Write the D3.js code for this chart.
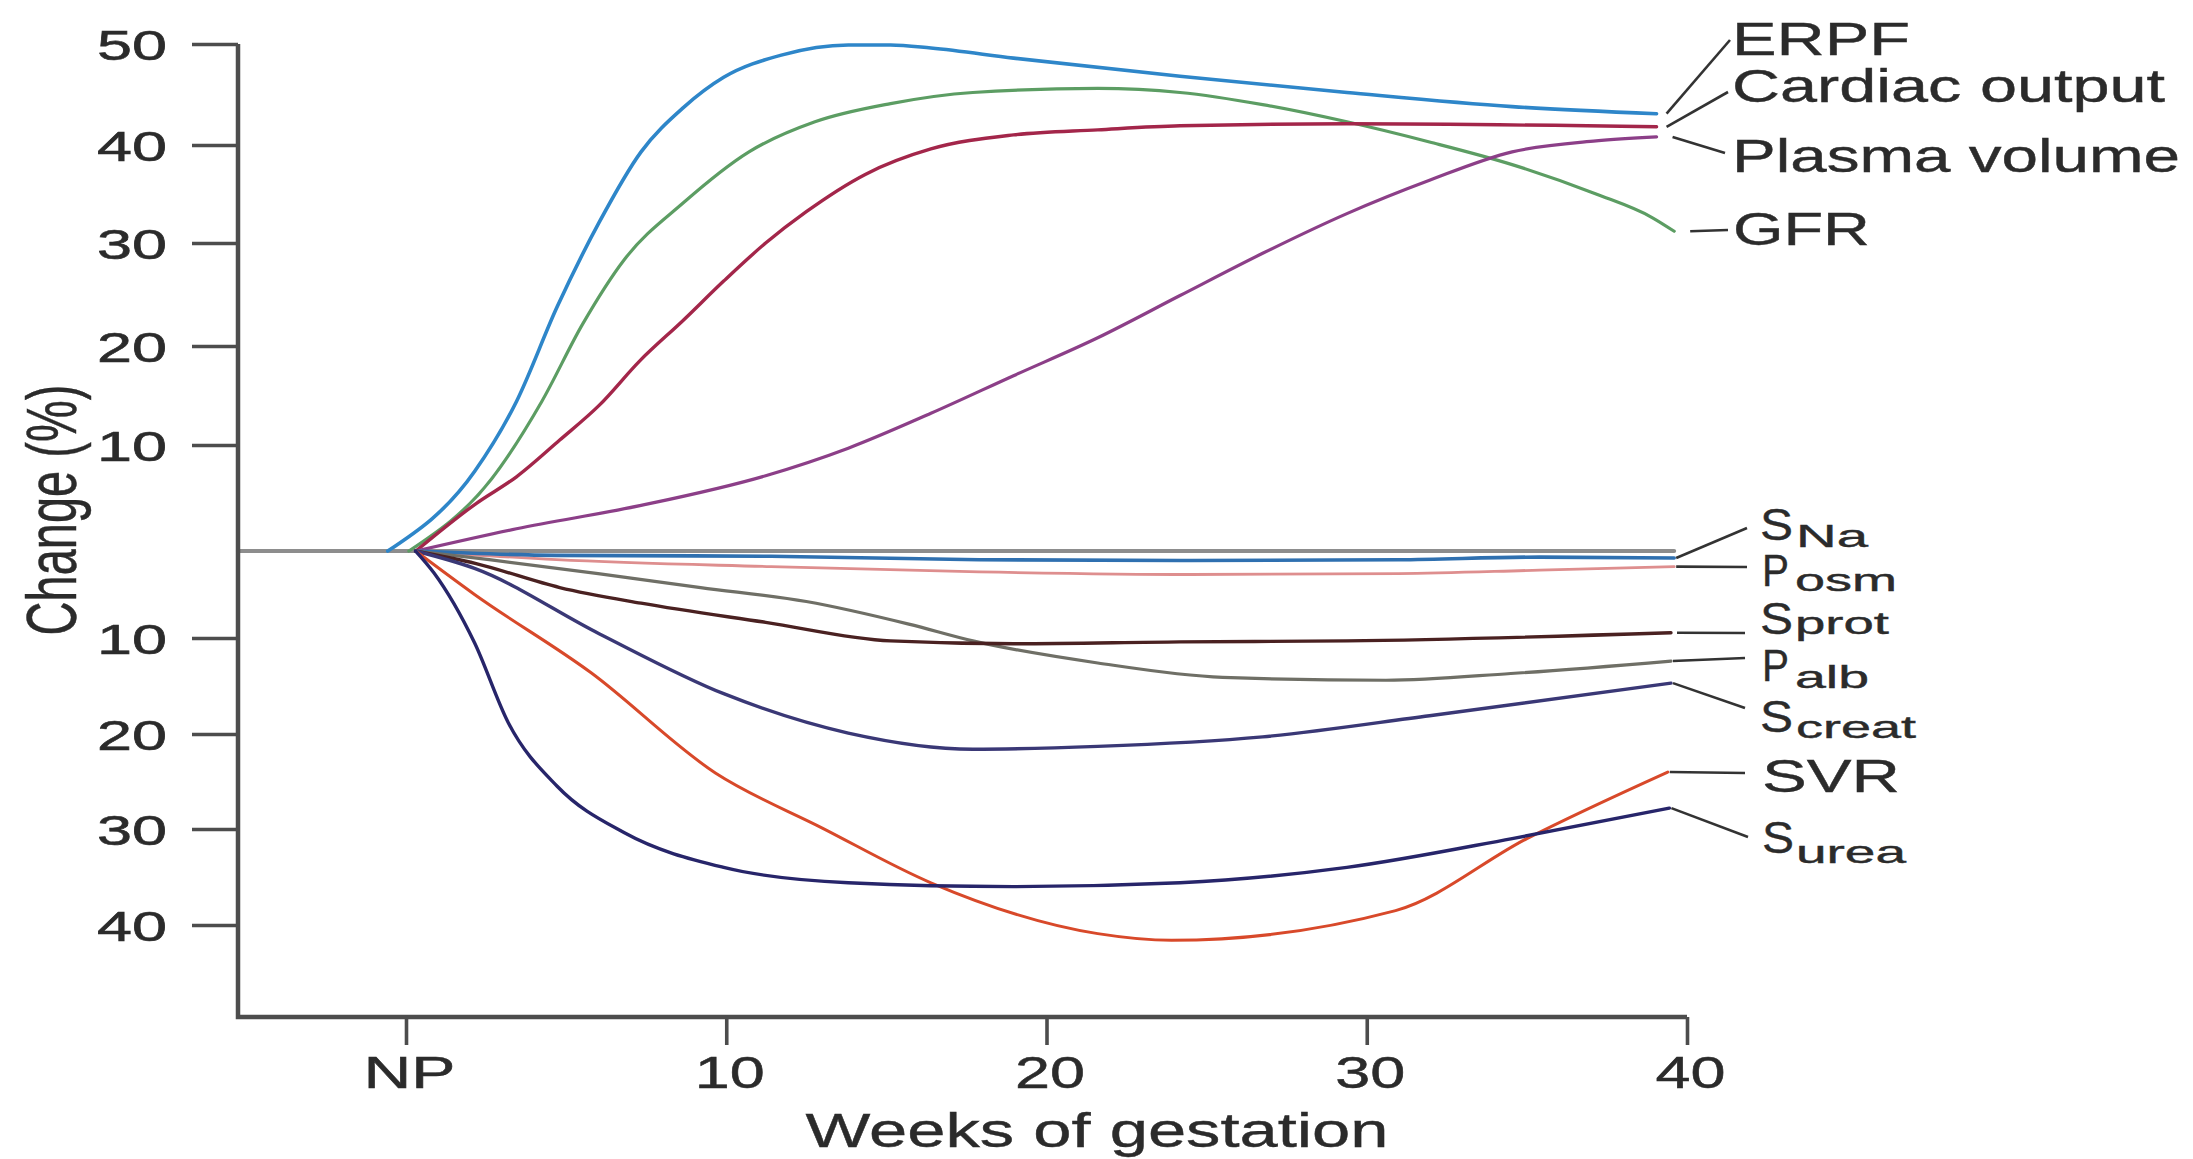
<!DOCTYPE html>
<html>
<head>
<meta charset="utf-8">
<script src="https://cdn.jsdelivr.net/npm/d3@7"></script>
<style>
  html, body { margin: 0; padding: 0; background: #ffffff; }
  svg { display: block; }
  text { font-family: "Liberation Sans", Arial, Helvetica, sans-serif; fill: #2b2b2b; }
</style>
</head>
<body>
<svg id="chart" width="2193" height="1159"></svg>
<script>
// ---------------- DATA ----------------
// x = weeks of gestation (0 = NP, non-pregnant), y = change (%)
const xTickValues = [0, 10, 20, 30, 40];
const xTickLabels = ["NP", "10", "20", "30", "40"];
const yTickValues = [50, 40, 30, 20, 10, -10, -20, -30, -40];
const yTickLabels = ["50", "40", "30", "20", "10", "10", "20", "30", "40"];

const baselineWeeks  = [-5.25, 39.6];
const baselineValues = [0, 0];

const erpfWeeks  = [-0.57, 2.14, 3.45, 4.72, 6.03, 7.34, 8.66, 9.92, 11.72, 13.81, 15.13, 16.39, 18.97, 24.17, 29.38, 34.54, 39.05];
const erpfValues = [0, 7.5, 14.4, 23.8, 32.1, 39.3, 43.7, 46.7, 48.9, 49.9, 49.9, 49.6, 48.6, 46.8, 45.2, 43.8, 43.1];

const gfrWeeks  = [0.09, 2.67, 4.24, 5.51, 6.82, 8.66, 10.71, 12.77, 15.13, 17.70, 21.60, 24.17, 26.75, 29.38, 31.96, 34.54, 37.16, 38.91, 39.6];
const gfrValues = [0, 6.8, 14.4, 22.1, 28.4, 34.1, 39.3, 42.3, 44.1, 45.2, 45.6, 45.2, 44.0, 42.3, 40.3, 38.0, 35.0, 32.6, 31.2];

const coWeeks  = [0.31, 2.2, 3.45, 4.8, 6.03, 7.3, 8.66, 9.92, 11.23, 12.50, 14.34, 16.39, 18.97, 21.60, 24.17, 29.38, 39.05];
const coValues = [0, 4.5, 7.0, 10.5, 14.0, 18.5, 22.5, 26.3, 30.0, 33.2, 37.0, 39.6, 41.0, 41.5, 41.9, 42.1, 41.8];

const pvWeeks  = [0.31, 3.45, 7.34, 11.23, 13.81, 16.39, 18.97, 21.60, 24.17, 26.75, 29.38, 31.96, 34.54, 37.16, 39.05];
const pvValues = [0, 2.1, 4.3, 7.1, 9.7, 13.2, 17.0, 20.8, 24.9, 29.0, 33.0, 36.4, 39.3, 40.4, 40.8];

const snaWeeks  = [0.3, 4.7, 11.4, 17.9, 24.5, 31.0, 35.4, 39.6];
const snaValues = [0, -0.5, -0.6, -1.0, -1.1, -1.0, -0.7, -0.8];

const posmWeeks  = [0.3, 4.7, 11.4, 17.9, 24.5, 31.0, 35.4, 39.6];
const posmValues = [0, -1.0, -1.8, -2.4, -2.7, -2.6, -2.2, -1.8];

const sprotWeeks  = [0.3, 2.19, 4.8, 7.34, 11.23, 15.13, 18.97, 24.17, 29.38, 39.5];
const sprotValues = [0, -1.45, -4.2, -6.0, -8.2, -10.3, -10.6, -10.4, -10.3, -9.4];

const palbWeeks  = [0.3, 2.6, 6.0, 9.2, 12.5, 15.7, 17.7, 21.6, 25.5, 30.6, 34.5, 39.5];
const palbValues = [0, -1.0, -2.6, -4.2, -5.8, -8.4, -10.3, -12.6, -14.1, -14.4, -13.7, -12.4];

const screatWeeks  = [0.3, 2.14, 6.03, 9.92, 13.81, 17.70, 21.60, 26.75, 31.96, 39.5];
const screatValues = [0, -2.0, -9.5, -15.8, -19.9, -21.6, -21.3, -20.3, -18.1, -14.7];

const svrWeeks  = [0.3, 2.14, 5.77, 9.66, 13.0, 16.39, 21.6, 23.9, 30.9, 35.0, 39.4];
const svrValues = [0, -5.0, -13.6, -24.1, -29.9, -35.6, -40.9, -41.6, -38.5, -31.0, -24.0];

const sureaWeeks  = [0.3, 0.87, 2.14, 3.19, 4.72, 6.82, 9.92, 13.81, 18.97, 24.17, 29.38, 34.54, 39.45];
const sureaValues = [0, -2.5, -10.5, -18.8, -25.5, -30.4, -34.0, -35.6, -36.0, -35.6, -34.0, -31.0, -27.8];

// ---------------- SERIES TABLE (built from the arrays) ----------------
const series = [
  { key: "baseline",       weeks: baselineWeeks, values: baselineValues, color: "#8d8d8d", width: 4 },
  { key: "ERPF",           weeks: erpfWeeks,     values: erpfValues,     color: "#2e86c9", width: 3.6 },
  { key: "GFR",            weeks: gfrWeeks,      values: gfrValues,      color: "#5c9d63", width: 3.2 },
  { key: "Cardiac output", weeks: coWeeks,       values: coValues,       color: "#a3264a", width: 3.4 },
  { key: "Plasma volume",  weeks: pvWeeks,       values: pvValues,       color: "#8c3f88", width: 3.2 },
  { key: "Posm",           weeks: posmWeeks,     values: posmValues,     color: "#de8e8e", width: 2.8 },
  { key: "SNa",            weeks: snaWeeks,      values: snaValues,      color: "#2f70b0", width: 3.6 },
  { key: "Palb",           weeks: palbWeeks,     values: palbValues,     color: "#6f6f66", width: 3.2 },
  { key: "Sprot",          weeks: sprotWeeks,    values: sprotValues,    color: "#4a2121", width: 3.4 },
  { key: "Screat",         weeks: screatWeeks,   values: screatValues,   color: "#3a3876", width: 3.4 },
  { key: "SVR",            weeks: svrWeeks,      values: svrValues,      color: "#d8492a", width: 3.0 },
  { key: "Surea",          weeks: sureaWeeks,    values: sureaValues,    color: "#27256a", width: 3.4 }
];

// ---------------- LAYOUT ----------------
const svg = d3.select("#chart");
svg.append("rect").attr("width", 2193).attr("height", 1159).attr("fill", "#ffffff");

const axisLeftX = 238, axisTopY = 44, axisBottomY = 1017, axisRightX = 1687;
const textColor = "#2b2b2b", axisColor = "#4d4d4d";

const x = d3.scaleLinear().domain([0, 40]).range([406, 1687]);
// the figure's vertical scale is slightly uneven; a piecewise-linear scale follows its ticks
const y = d3.scaleLinear()
  .domain([-40, -30, -20, -10, 0, 10, 20, 30, 40, 50])
  .range([925, 829, 734, 638, 551, 445, 346, 243, 145, 44]);

// ---------------- LINES ----------------
const line = d3.line()
  .x(d => x(d[0]))
  .y(d => y(d[1]))
  .curve(d3.curveMonotoneX);

svg.append("g").selectAll("path")
  .data(series)
  .join("path")
  .attr("d", s => line(s.weeks.map((w, i) => [w, s.values[i]])))
  .attr("fill", "none")
  .attr("stroke", s => s.color)
  .attr("stroke-width", s => s.width)
  .attr("stroke-linejoin", "round")
  .attr("stroke-linecap", "round");

// ---------------- AXES ----------------
const yAxis = d3.axisLeft(y)
  .tickValues(yTickValues)
  .tickFormat((d, i) => yTickLabels[i])
  .tickSize(46)
  .tickSizeOuter(0)
  .tickPadding(25);

const gy = svg.append("g").attr("transform", `translate(${axisLeftX},0)`).call(yAxis);
gy.select(".domain").remove();
gy.selectAll(".tick line").attr("stroke", axisColor).attr("stroke-width", 3.6);
gy.selectAll(".tick text")
  .attr("font-size", 43)
  .attr("dy", "0.36em")
  .attr("fill", textColor)
  .attr("stroke", textColor).attr("stroke-width", 0.6)
  .attr("textLength", 70)
  .attr("lengthAdjust", "spacingAndGlyphs")
  .style("font-family", "'Liberation Sans', Arial, sans-serif");

const xAxis = d3.axisBottom(x)
  .tickValues(xTickValues)
  .tickFormat((d, i) => xTickLabels[i])
  .tickSize(28)
  .tickSizeOuter(0)
  .tickPadding(11);

const gx = svg.append("g").attr("transform", `translate(0,${axisBottomY})`).call(xAxis);
gx.select(".domain").remove();
gx.selectAll(".tick line").attr("stroke", axisColor).attr("stroke-width", 3.6);
gx.selectAll(".tick text")
  .attr("font-size", 45)
  .attr("x", 3)
  .attr("fill", textColor)
  .attr("stroke", textColor).attr("stroke-width", 0.5)
  .attr("textLength", (d, i) => i === 0 ? 92 : 70)
  .attr("lengthAdjust", "spacingAndGlyphs")
  .style("font-family", "'Liberation Sans', Arial, sans-serif");

// axis lines (L-shaped frame)
svg.append("path")
  .attr("d", `M${axisLeftX},${axisTopY}V${axisBottomY}H${axisRightX}`)
  .attr("fill", "none")
  .attr("stroke", axisColor)
  .attr("stroke-width", 4.5)
  .attr("stroke-linejoin", "miter");

// axis titles
svg.append("text")
  .attr("transform", "translate(76,510) scale(1.5,1) rotate(-90)")
  .attr("text-anchor", "middle")
  .attr("font-size", 47)
  .attr("stroke", textColor).attr("stroke-width", 0.3)
  .text("Change (%)");

svg.append("text")
  .attr("x", 1097).attr("y", 1147)
  .attr("text-anchor", "middle")
  .attr("font-size", 48)
  .attr("textLength", 583)
  .attr("lengthAdjust", "spacingAndGlyphs")
  .attr("stroke", textColor).attr("stroke-width", 0.4)
  .text("Weeks of gestation");

// ---------------- SERIES LABELS ----------------
// leader: from series end to label; labels: [text, x, baseline, size, width]
const labelLayout = {
  "ERPF":           { leaderEnd: [1730, 40],  gap: 10, parts: [["ERPF", 1732, 55, 46, 178]] },
  "Cardiac output": { leaderEnd: [1728, 92],  gap: 10, parts: [["Cardiac output", 1732, 102, 46, 433]] },
  "Plasma volume":  { leaderEnd: [1725, 153], gap: 16, parts: [["Plasma volume", 1732, 172, 46, 448]] },
  "GFR":            { leaderEnd: [1728, 230], gap: 16, parts: [["GFR", 1733, 245, 46, 137]] },
  "SNa":            { leaderEnd: [1747, 528], gap: 2,  parts: [["S", 1760, 540, 45, 33], ["Na", 1796, 547, 32, 72]] },
  "Posm":           { leaderEnd: [1747, 567], gap: 2,  parts: [["P", 1762, 586, 45, 27], ["osm", 1795, 591, 32, 102]] },
  "Sprot":          { leaderEnd: [1745, 633], gap: 6,  parts: [["S", 1760, 634, 45, 33], ["prot", 1795, 634, 32, 94]] },
  "Palb":           { leaderEnd: [1745, 658], gap: 2,  parts: [["P", 1762, 681, 44, 27], ["alb", 1795, 688, 32, 74]] },
  "Screat":         { leaderEnd: [1745, 708], gap: 2,  parts: [["S", 1760, 732, 45, 33], ["creat", 1796, 738, 32, 120]] },
  "SVR":            { leaderEnd: [1745, 773], gap: 2,  parts: [["SVR", 1762, 792, 46, 138]] },
  "Surea":          { leaderEnd: [1748, 837], gap: 2,  parts: [["S", 1762, 853, 45, 32], ["urea", 1796, 863, 32, 110]] }
};

const gl = svg.append("g");
series.filter(s => labelLayout[s.key]).forEach(s => {
  const L = labelLayout[s.key];
  const n = s.weeks.length - 1;
  const x0 = x(s.weeks[n]) + L.gap, y0 = y(s.values[n]);
  gl.append("line")
    .attr("x1", x0).attr("y1", y0)
    .attr("x2", L.leaderEnd[0]).attr("y2", L.leaderEnd[1])
    .attr("stroke", "#333333").attr("stroke-width", 2.6);
  L.parts.forEach(p => {
    gl.append("text")
      .attr("x", p[1]).attr("y", p[2])
      .attr("font-size", p[3])
      .attr("textLength", p[4])
      .attr("lengthAdjust", "spacingAndGlyphs")
      .attr("stroke", textColor).attr("stroke-width", 0.4)
      .text(p[0]);
  });
});
</script>
</body>
</html>
